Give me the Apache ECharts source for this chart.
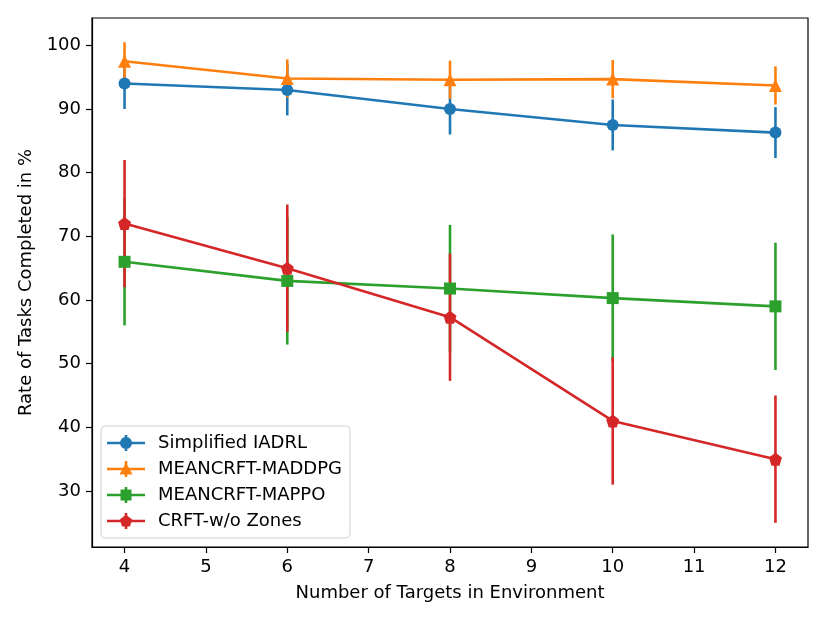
<!DOCTYPE html>
<html>
<head>
<meta charset="utf-8">
<script src="https://cdn.jsdelivr.net/npm/echarts@6/dist/echarts.min.js"></script>
<style>html,body{margin:0;padding:0;background:#fff;}#c{width:830px;height:623px;}</style>
</head>
<body>
<div id="c"></div>
<script>
const targets = [4, 6, 8, 10, 12];
const xTicks = [4, 5, 6, 7, 8, 9, 10, 11, 12];
const yTicks = [30, 40, 50, 60, 70, 80, 90, 100];

const seriesNames = ['Simplified IADRL', 'MEANCRFT-MADDPG', 'MEANCRFT-MAPPO', 'CRFT-w/o Zones'];
const iadrl = [94.0, 93.0, 90.0, 87.5, 86.3];
const iadrlErr = [4, 4, 4, 4, 4];
const maddpg = [97.5, 94.8, 94.6, 94.7, 93.7];
const maddpgErr = [3, 3, 3, 3, 3];
const mappo = [66.0, 63.0, 61.8, 60.3, 59.0];
const mappoErr = [10, 10, 10, 10, 10];
const noZones = [72.0, 65.0, 57.3, 41.0, 35.0];
const noZonesErr = [10, 10, 10, 10, 10];

const colors = ['#1f77b4', '#ff7f0e', '#2ca02c', '#d62728'];
const pentagon = 'path://M0,-1 L0.951,-0.309 L0.588,0.809 L-0.588,0.809 L-0.951,-0.309 Z';
const symbols = ['circle', 'triangle', 'rect', pentagon];
const symbolSizes = [12, 13, 12, 13];
const values = [iadrl, maddpg, mappo, noZones];
const errs = [iadrlErr, maddpgErr, mappoErr, noZonesErr];

// legend handles: horizontal line + vertical error bar + marker (38 x 16 box), all clockwise
const base = 'M0,6.7 L38,6.7 L38,9.3 L0,9.3 Z M17.7,0 L20.3,0 L20.3,16 L17.7,16 Z ';
function circlePath(cx, cy, r, n) {
  let s = '';
  for (let k = 0; k < n; k++) {
    const t = 2 * Math.PI * k / n;
    s += (k === 0 ? 'M' : 'L') + (cx + r * Math.cos(t)).toFixed(2) + ',' + (cy + r * Math.sin(t)).toFixed(2) + ' ';
  }
  return s + 'Z';
}
const legendIcons = [
  'path://' + base + circlePath(19, 8, 6, 28),
  'path://' + base + 'M19,1.5 L25.5,13.5 L12.5,13.5 Z',
  'path://' + base + 'M13.5,2.5 L24.5,2.5 L24.5,13.5 L13.5,13.5 Z',
  'path://' + base + 'M19,1.8 L25.3,6.4 L22.9,13.6 L15.1,13.6 L12.7,6.4 Z'
];

const series = [];
values.forEach((vals, i) => {
  const errData = targets.map((x, j) => [x, vals[j] - errs[i][j], vals[j] + errs[i][j]]);
  series.push({
    type: 'custom',
    name: seriesNames[i] + ' err',
    data: errData,
    encode: { x: 0, y: [1, 2] },
    silent: true,
    renderItem: function (params, api) {
      const p1 = api.coord([api.value(0), api.value(1)]);
      const p2 = api.coord([api.value(0), api.value(2)]);
      return {
        type: 'line',
        shape: { x1: p1[0], y1: p1[1], x2: p2[0], y2: p2[1] },
        style: { stroke: colors[i], lineWidth: 2.6 }
      };
    }
  });
  series.push({
    type: 'line',
    name: seriesNames[i],
    data: targets.map((x, j) => [x, vals[j]]),
    symbol: symbols[i],
    symbolSize: symbolSizes[i],
    showAllSymbol: true,
    lineStyle: { color: colors[i], width: 2.6 },
    itemStyle: { color: colors[i] },
    emphasis: { disabled: true },
    animation: false
  });
});

const chart = echarts.init(document.getElementById('c'), null, { renderer: 'canvas' });
const font = 'DejaVu Sans';
chart.setOption({
  animation: false,
  color: colors,
  textStyle: { fontFamily: font },
  grid: { left: 92, right: 22, top: 18, bottom: 76, show: true, borderColor: '#000', borderWidth: 1.2, backgroundColor: 'transparent' },
  legend: {
    data: seriesNames.map((n, i) => ({ name: n, icon: legendIcons[i], itemStyle: { color: colors[i] } })),
    orient: 'vertical',
    left: 101,
    top: 426,
    itemWidth: 38,
    itemHeight: 16,
    itemGap: 8,
    padding: [8, 8, 8, 6],
    borderColor: '#d0d0d0',
    borderWidth: 1,
    borderRadius: 4,
    backgroundColor: 'rgba(255,255,255,0.8)',
    textStyle: { fontFamily: font, fontSize: 18, color: '#000', padding: [0, 0, 0, 8] },
    selectedMode: false
  },
  xAxis: {
    type: 'value',
    min: 3.6,
    max: 12.4,
    name: 'Number of Targets in Environment',
    nameLocation: 'middle',
    nameGap: 37,
    nameTextStyle: { fontFamily: font, fontSize: 18, color: '#000' },
    splitLine: { show: false },
    axisLine: { show: true, onZero: false, lineStyle: { color: '#000', width: 1.2 } },
    axisTick: { show: true, length: 6, lineStyle: { color: '#000', width: 1.2 }, customValues: xTicks },
    axisLabel: { fontFamily: font, fontSize: 18, color: '#000', margin: 11, customValues: xTicks }
  },
  yAxis: {
    type: 'value',
    min: 21.2,
    max: 104.3,
    name: 'Rate of Tasks Completed in %',
    nameLocation: 'middle',
    nameGap: 48,
    nameTextStyle: { fontFamily: font, fontSize: 18, color: '#000' },
    splitLine: { show: false },
    axisLine: { show: true, onZero: false, lineStyle: { color: '#000', width: 1.2 } },
    axisTick: { show: true, length: 6, lineStyle: { color: '#000', width: 1.2 }, customValues: yTicks },
    axisLabel: { fontFamily: font, fontSize: 18, color: '#000', margin: 11, customValues: yTicks }
  },
  series: series
});
</script>
</body>
</html>
